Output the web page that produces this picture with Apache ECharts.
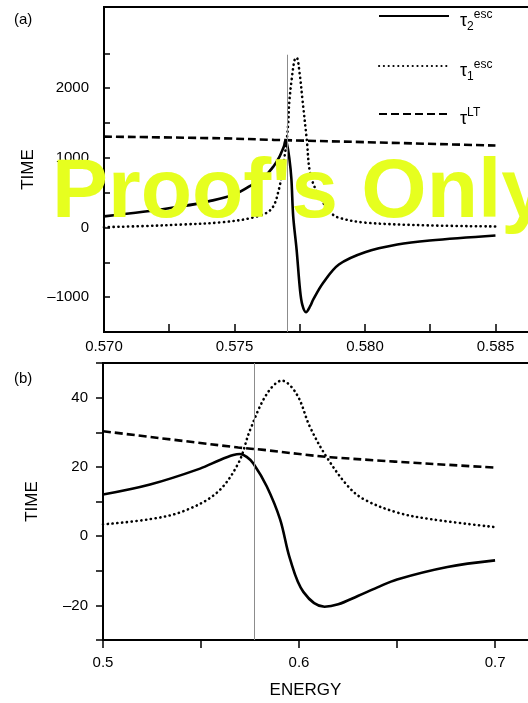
<!DOCTYPE html>
<html>
<head>
<meta charset="utf-8">
<script src="https://cdn.jsdelivr.net/npm/echarts@6/dist/echarts.min.js"></script>
<style>
html, body { margin: 0; padding: 0; background: #fff; }
#chart { width: 528px; height: 703px; }
</style>
</head>
<body>
<div id="chart"></div>
<script>
// panel (a) - zoom around the resonance
var aTau2E = [0.5700, 0.5715, 0.5730, 0.5740, 0.5750, 0.5757, 0.5762, 0.5765, 0.5767, 0.5768, 0.5769, 0.57695, 0.5770, 0.5771, 0.57718, 0.57725, 0.57738, 0.57751, 0.5776, 0.57774, 0.5779, 0.57802, 0.5784, 0.5790, 0.5800, 0.58124, 0.58248, 0.5850];
var aTau2T = [160, 225, 305, 375, 475, 620, 750, 880, 1000, 1080, 1170, 1240, 1220, 1000, 700, 160, -316, -890, -1110, -1215, -1130, -1033, -794, -531, -354, -244, -187, -115];
var aTau1E = [0.5700, 0.5715, 0.5730, 0.5745, 0.5757, 0.5764, 0.5767, 0.5769, 0.5770, 0.57706, 0.5771, 0.5772, 0.5773, 0.57738, 0.5775, 0.5776, 0.57777, 0.5779, 0.5782, 0.5787, 0.5790, 0.5800, 0.5825, 0.5850];
var aTau1T = [5, 20, 43, 75, 143, 260, 545, 975, 1250, 1500, 1800, 2150, 2400, 2440, 2200, 1850, 1260, 780, 480, 210, 140, 70, 30, 15];
var aTauLTE = [0.570, 0.5745, 0.5765, 0.580, 0.585];
var aTauLTT = [1305, 1280, 1258, 1225, 1176];
var aXTicks = [0.570, 0.5725, 0.575, 0.5775, 0.580, 0.5825, 0.585];
var aXLabels = [0.570, 0.575, 0.580, 0.585];
var aYTicks = [-1500, -1000, -500, 0, 500, 1000, 1500, 2000, 2500];
var aYLabels = [-1000, 0, 1000, 2000];

// panel (b) - wide energy range
var bTau2E = [0.500, 0.524, 0.5495, 0.5597, 0.5665, 0.5699, 0.5733, 0.5767, 0.5835, 0.5903, 0.5954, 0.6022, 0.6130, 0.6200, 0.6300, 0.6400, 0.6500, 0.6757, 0.7000];
var bTau2T = [12.0, 14.9, 19.5, 22.0, 23.4, 23.7, 22.9, 21.0, 14.4, 4.9, -6.6, -16.1, -20.4, -19.7, -17.3, -14.8, -12.5, -8.9, -7.0];
var bTau1E = [0.500, 0.524, 0.541, 0.558, 0.569, 0.575, 0.5835, 0.5912, 0.5988, 0.6056, 0.614, 0.625, 0.6332, 0.6502, 0.6672, 0.700];
var bTau1T = [3.4, 4.9, 7.2, 12.5, 21.0, 30.6, 41.0, 44.9, 41.0, 31.5, 22.9, 14.4, 10.6, 6.8, 4.9, 2.6];
var bTauLTE = [0.500, 0.569, 0.582, 0.616, 0.700];
var bTauLTT = [30.3, 25.6, 24.9, 22.8, 19.8];
var bXTicks = [0.50, 0.55, 0.60, 0.65, 0.70];
var bXLabels = [0.5, 0.6, 0.7];
var bYTicks = [-30, -20, -10, 0, 10, 20, 30, 40, 50];
var bYLabels = [-20, 0, 20, 40];

// resonance energy (thin grey line)
var resE = 0.57703;

var FONT = '"Liberation Sans", Arial, Helvetica, sans-serif';

var zip = (xs, ys) => xs.map((x, i) => [x, ys[i]]);
var dash = v => String(v).replace('-', '\u2013');

var legendText = {
    tau2: '{t|\u03c4}{sub|2}{sup|esc}',
    tau1: '{t|\u03c4}{sub|1}{sup|esc}',
    tauLT: '{t|\u03c4}{sup|LT}'
};

var styles = {
    solid: { color: '#000', width: 2.6, type: 'solid' },
    dotted: { color: '#000', width: 2.6, type: [0.2, 4.6], cap: 'round' },
    dashed: { color: '#000', width: 2.6, type: [8, 4] }
};

function mkSeries(name, grid, data, style) {
    return {
        name: name,
        type: 'line',
        xAxisIndex: grid,
        yAxisIndex: grid,
        data: data,
        symbol: 'none',
        smooth: 0.35,
        itemStyle: { color: '#000' },
        lineStyle: style,
        emphasis: { disabled: true },
        z: 3
    };
}

function mkLegend(name, top) {
    return {
        data: [name],
        left: 378,
        top: top,
        padding: 0,
        itemWidth: 70,
        itemHeight: 14,
        itemGap: 0,
        selectedMode: false,
        itemStyle: { color: 'rgba(0,0,0,0)', borderColor: 'rgba(0,0,0,0)', borderWidth: 0 },
        formatter: n => legendText[n],
        textStyle: {
            fontFamily: FONT,
            color: '#000',
            padding: [10, 0, 0, 6],
            rich: {
                t: { fontSize: 18, lineHeight: 24, fontFamily: FONT, color: '#000' },
                sub: { fontSize: 12, lineHeight: 14, verticalAlign: 'bottom', fontFamily: FONT, color: '#000' },
                sup: { fontSize: 12, lineHeight: 14, verticalAlign: 'top', fontFamily: FONT, color: '#000' }
            }
        }
    };
}

function mkX(grid, min, max, ticks, labels, inside, fmt, margin) {
    return {
        type: 'value',
        gridIndex: grid,
        min: min,
        max: max,
        axisLine: { onZero: false, lineStyle: { color: '#000', width: 2 } },
        axisTick: { inside: inside, length: 8, customValues: ticks, lineStyle: { color: '#000', width: 1.5 } },
        axisLabel: { customValues: labels, formatter: fmt, color: '#000', fontSize: 15, fontFamily: FONT, margin: margin },
        splitLine: { show: false }
    };
}

function mkY(grid, min, max, ticks, labels, inside, len) {
    return {
        type: 'value',
        gridIndex: grid,
        min: min,
        max: max,
        name: 'TIME',
        nameLocation: 'middle',
        nameGap: 62,
        nameTextStyle: { color: '#000', fontSize: 17, fontFamily: FONT },
        axisLine: { onZero: false, lineStyle: { color: '#000', width: 2 } },
        axisTick: { inside: inside, length: len, customValues: ticks, lineStyle: { color: '#000', width: 1.5 } },
        axisLabel: { customValues: labels, formatter: dash, color: '#000', fontSize: 15, fontFamily: FONT, margin: 15 },
        splitLine: { show: false }
    };
}

var chart = echarts.init(document.getElementById('chart'));

var resLine = {
    silent: true,
    symbol: ['none', 'none'],
    label: { show: false },
    lineStyle: { color: '#8c8c8c', width: 1, type: 'solid' }
};

var sA = mkSeries('tau2', 0, zip(aTau2E, aTau2T), styles.solid);
sA.markLine = Object.assign({ data: [[{ coord: [resE, -1500] }, { coord: [resE, 2480] }]] }, resLine);
var sB = mkSeries('tau2', 1, zip(bTau2E, bTau2T), styles.solid);
sB.markLine = Object.assign({ data: [[{ coord: [resE, -30] }, { coord: [resE, 50] }]] }, resLine);

var option = {
    backgroundColor: '#fff',
    animation: false,
    // plot areas run past the right edge of the picture
    grid: [
        { left: 104, top: 7, width: 434, height: 325, outerBoundsMode: 'none', show: true, borderColor: '#000', borderWidth: 2 },
        { left: 103, top: 363, width: 435, height: 277, outerBoundsMode: 'none', show: true, borderColor: '#000', borderWidth: 2 }
    ],
    legend: [mkLegend('tau2', 9), mkLegend('tau1', 59), mkLegend('tauLT', 107)],
    xAxis: [
        mkX(0, 0.570, 0.58663, aXTicks, aXLabels, true, v => v.toFixed(3), 7),
        Object.assign(mkX(1, 0.5, 0.7219, bXTicks, bXLabels, false, v => String(+v.toFixed(1)), 15), {
            name: 'ENERGY',
            nameLocation: 'middle',
            nameGap: 42,
            nameTextStyle: { color: '#000', fontSize: 17, fontFamily: FONT, padding: [0, 30, 0, 0] }
        })
    ],
    yAxis: [
        mkY(0, -1500, 3165, aYTicks, aYLabels, true, 6),
        mkY(1, -30, 50, bYTicks, bYLabels, false, 7)
    ],
    series: [
        sA,
        mkSeries('tau1', 0, zip(aTau1E, aTau1T), styles.dotted),
        mkSeries('tauLT', 0, zip(aTauLTE, aTauLTT), styles.dashed),
        sB,
        mkSeries('tau1', 1, zip(bTau1E, bTau1T), styles.dotted),
        mkSeries('tauLT', 1, zip(bTauLTE, bTauLTT), styles.dashed)
    ],
    graphic: [
        { type: 'text', left: 14, top: 12, style: { text: '(a)', font: '15px ' + FONT, fill: '#000' } },
        { type: 'text', left: 14, top: 371, style: { text: '(b)', font: '15px ' + FONT, fill: '#000' } },
        {
            type: 'text', x: 52, y: 194, z: 100, silent: true,
            style: { text: "Proof's Only", font: 'bold 84px ' + FONT, fill: '#e6ff1f', verticalAlign: 'middle' }
        }
    ]
};

chart.setOption(option);
</script>
</body>
</html>
